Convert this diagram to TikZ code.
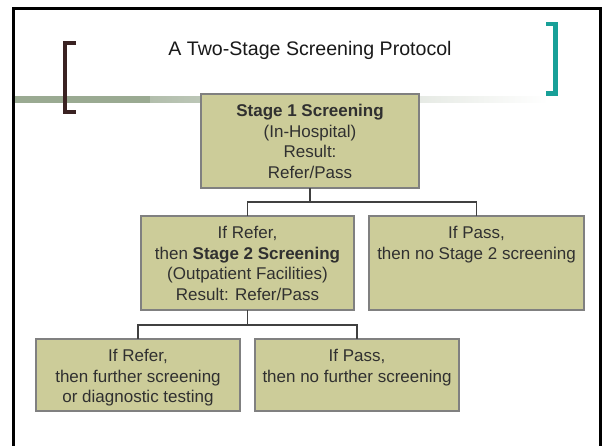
\documentclass[tikz,border=0pt]{standalone}
\usepackage{fontspec}
\setmainfont{Liberation Sans}
\definecolor{boxfill}{RGB}{204,204,153}
\definecolor{boxline}{RGB}{128,128,128}
\definecolor{boxtextc}{RGB}{48,48,48}
\definecolor{linkc}{RGB}{64,64,64}
\definecolor{barsolid}{RGB}{154,170,146}
\definecolor{barlight}{RGB}{178,190,172}
\definecolor{leftbr}{RGB}{58,34,34}
\definecolor{rightbr}{RGB}{24,160,152}
% box contents: width, height, lines (top aligned, first baseline fixed)
\newcommand{\stagetext}[3]{\parbox[c][#2][t]{#1}{\centering\rule{0pt}{22.5pt}#3}}
\tikzset{
  stagebox/.style={draw=boxline, fill=boxfill, line width=1.3pt, inner sep=0pt, outer sep=0pt,
    text=boxtextc, font=\fontsize{17}{20.5}\selectfont},
  link/.style={draw=linkc, line width=1.2pt},
}
\begin{document}
\begin{tikzpicture}[x=1pt, y=-1pt]
\useasboundingbox (0,0) rectangle (602,445);
\fill[white] (0,0) rectangle (602,445);

% slide frame (open at the bottom)
\draw[line width=3pt, line join=miter] (13.5,450) -- (13.5,8) -- (600.5,8) -- (600.5,450);

% header rule: solid part, then fading to white
\fill[barsolid] (15,96) rectangle (150,102.5);
\shade[left color=barlight, right color=white] (150,96) rectangle (548,102.5);

% brackets round the title
\draw[leftbr, line width=4pt, line join=miter] (76,43) -- (65,43) -- (65,112) -- (76,112);
\draw[rightbr, line width=4.5pt, line join=miter] (546,24.2) -- (555.5,24.2) -- (555.5,93.5) -- (546,93.5);

\node[font=\fontsize{19.6}{23}\selectfont, text=black!90, anchor=base] (title) at (310,55) {A Two-Stage Screening Protocol};

% stages
\node[stagebox] (s1) at (310,141) {\stagetext{218pt}{94pt}{\textbf{Stage 1 Screening}\\(In-Hospital)\\Result:\\Refer/Pass}};
\node[stagebox] (s2) at (247.5,263) {\stagetext{213pt}{94pt}{If Refer,\\then \textbf{Stage 2 Screening}\\(Outpatient Facilities)\\Result: Refer/Pass}};
\node[stagebox] (p1) at (476.5,263) {\stagetext{215pt}{94pt}{If Pass,\\then no Stage 2 screening}};
\node[stagebox] (r2) at (138,375) {\stagetext{204pt}{72pt}{If Refer,\\then further screening\\or diagnostic testing}};
\node[stagebox] (p2) at (357,375) {\stagetext{204pt}{72pt}{If Pass,\\then no further screening}};

% connectors
\draw[link] (s1.south) -- ++(0,14) coordinate (j1) -| (s2.north);
\draw[link] (j1) -| (p1.north);
\draw[link] (s2.south) -- ++(0,15) coordinate (j2) -| (r2.north);
\draw[link] (j2) -| (p2.north);
\end{tikzpicture}
\end{document}
